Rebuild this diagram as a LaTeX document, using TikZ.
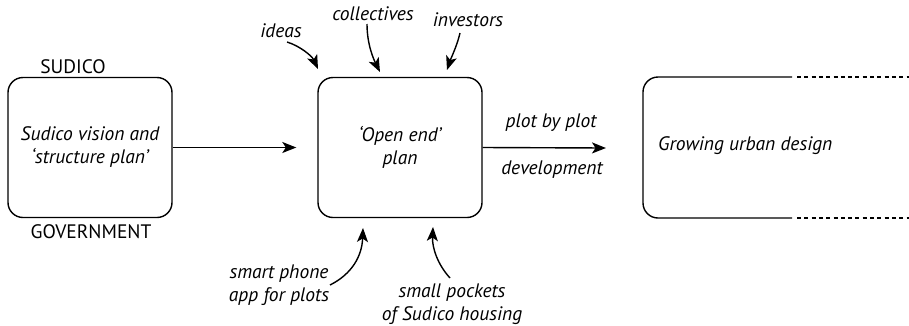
\documentclass[tikz,border=0pt]{standalone}
\usepackage{fontspec}
\setmainfont{PT Sans}
\usetikzlibrary{arrows.meta}
\begin{document}
\begin{tikzpicture}[x=1pt,y=-1pt,
  every node/.style={font=\fontsize{19.5}{23}\selectfont, inner sep=0pt},
  box/.style={draw, line width=1.4pt, rounded corners=15pt, minimum width=164pt, minimum height=140pt, align=center},
  lbl/.style={font=\fontsize{19.5}{23}\selectfont\itshape, align=center},
  arr/.style={line width=1.4pt, -{Stealth[length=14pt, width=11pt, inset=3.5pt]}},
  dashline/.style={line width=1.2pt, dash pattern=on 4pt off 3.3pt}]
\useasboundingbox (0,0) rectangle (909,325);

% main boxes
\node[box, lbl] (vision) at (90,147.5) {Sudico vision and\\`structure plan'};
\node[box, lbl] (plan) at (400,147.5) {`Open end'\\plan};
\node (sudico) at (73,67) {SUDICO};
\node (gov) at (91,232) {GOVERNMENT};

% open-ended box on the right
\draw[line width=1.4pt, rounded corners=15pt] (792,77) -- (643,77) -- (643,218) -- (792,218);
\draw[dashline] (797,77) -- (909,77);
\draw[dashline] (797,218) -- (909,218);
\node[lbl, anchor=west] (urban) at (658,146) {Growing urban design};
\coordinate (urbanIn) at (606,148);

% main flow
\draw[arr] (vision.east) -- ([xshift=-21pt]plan.west);
\draw[arr] (plan.east) -- (urbanIn);
\node[lbl] (plot) at (551,123) {plot by plot};
\node[lbl] (dev) at (552,170) {development};

% inputs from above
\node[lbl] (ideas) at (281,31) {ideas};
\node[lbl] (coll) at (373,14) {collectives};
\node[lbl] (inv) at (468,20) {investors};
\coordinate (ideasTip) at (318,69);
\coordinate (collTip) at (380,72);
\coordinate (invTip) at (447,70);
\draw[arr] (287,42) .. controls (300,46) and (312,56) .. (ideasTip);
\draw[arr] (367,24) .. controls (367,45) and (374,60) .. (collTip);
\draw[arr] (460,33) .. controls (457,46) and (451,58) .. (invTip);

% inputs from below
\node[lbl] (phone) at (279,285) {smart phone\\app for plots};
\node[lbl] (pockets) at (452,304) {small pockets\\of Sudico housing};
\coordinate (phoneTip) at (363,228);
\coordinate (pocketsTip) at (433,227);
\draw[arr] (330,285) .. controls (352,274) and (362,256) .. (phoneTip);
\draw[arr] (450,278) .. controls (438,265) and (432,248) .. (pocketsTip);
\end{tikzpicture}
\end{document}
